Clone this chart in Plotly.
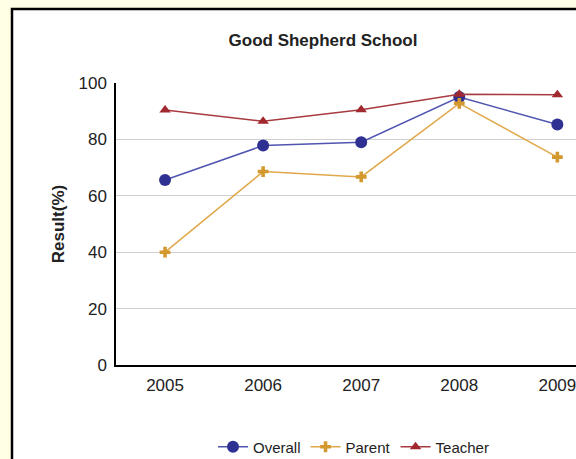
import plotly.graph_objects as go

years = ["2005", "2006", "2007", "2008", "2009"]
overall = [65.6, 77.8, 79.0, 95.0, 85.3]
parent = [40.0, 68.6, 66.7, 92.8, 73.7]
teacher = [90.4, 86.4, 90.5, 96.0, 95.8]
y_ticks = [0, 20, 40, 60, 80, 100]

W, H = 576, 459
L, T, B = 116, 83, 94
PW = W - L
PH = H - T - B

def px_x(p):
    return (p - L) / PW

def px_y(p):
    return (H - B - p) / PH

fig = go.Figure()
fig.add_trace(go.Scatter(x=years, y=overall, name="Overall", mode="lines+markers",
                         line=dict(color="#5055B0", width=1.5),
                         marker=dict(symbol="circle", size=12, color="#2E3192")))
fig.add_trace(go.Scatter(x=years, y=parent, name="Parent", mode="lines+markers",
                         line=dict(color="#E0A84A", width=1.5),
                         marker=dict(symbol="cross", size=9, color="#D4992E")))
fig.add_trace(go.Scatter(x=years, y=teacher, name="Teacher", mode="lines+markers",
                         line=dict(color="#A83A40", width=1.5),
                         marker=dict(symbol="triangle-up", size=10, color="#A0282E")))

fig.add_shape(type="rect", xref="paper", yref="paper",
              x0=px_x(12), x1=px_x(700), y0=px_y(700), y1=px_y(9),
              fillcolor="white", line=dict(color="black", width=2.5), layer="below")

fig.update_layout(
    width=W, height=H,
    margin=dict(l=L, r=0, t=T, b=B, autoexpand=False),
    paper_bgcolor="#FFFFE6",
    plot_bgcolor="rgba(0,0,0,0)",
    font=dict(family="Liberation Sans, Arial, sans-serif", size=17, color="#222222"),
    title=dict(text="<b>Good Shepherd School</b>", x=px_x(323), xref="paper",
               xanchor="center", y=1 - 40 / H, yanchor="middle",
               font=dict(size=17, color="#222222")),
    showlegend=True,
    legend=dict(orientation="h", x=px_x(213), xanchor="left", y=px_y(447), yanchor="middle",
                font=dict(size=15), bgcolor="rgba(0,0,0,0)", itemwidth=30),
    xaxis=dict(type="category", range=[-0.5, 4.19], showgrid=False,
               showline=True, linecolor="black", linewidth=1.5, ticks="",
               ticklabelstandoff=4, tickfont=dict(size=17), automargin=False),
    yaxis=dict(range=[0, 100], tickvals=y_ticks, showgrid=True, gridcolor="#D0D0D0",
               gridwidth=1, showline=True, linecolor="black", linewidth=1.5,
               zeroline=False, ticks="", ticklen=0, ticklabelstandoff=4,
               tickfont=dict(size=17), automargin=False,
               title=dict(text="<b>Result(%)</b>", font=dict(size=17), standoff=10)),
)

fig.write_html("out.html", config={"displayModeBar": False},
               post_script="document.body.style.margin='0';"
                           "document.body.style.background='#FFFFE6';"
                           "document.body.style.overflow='hidden';")
